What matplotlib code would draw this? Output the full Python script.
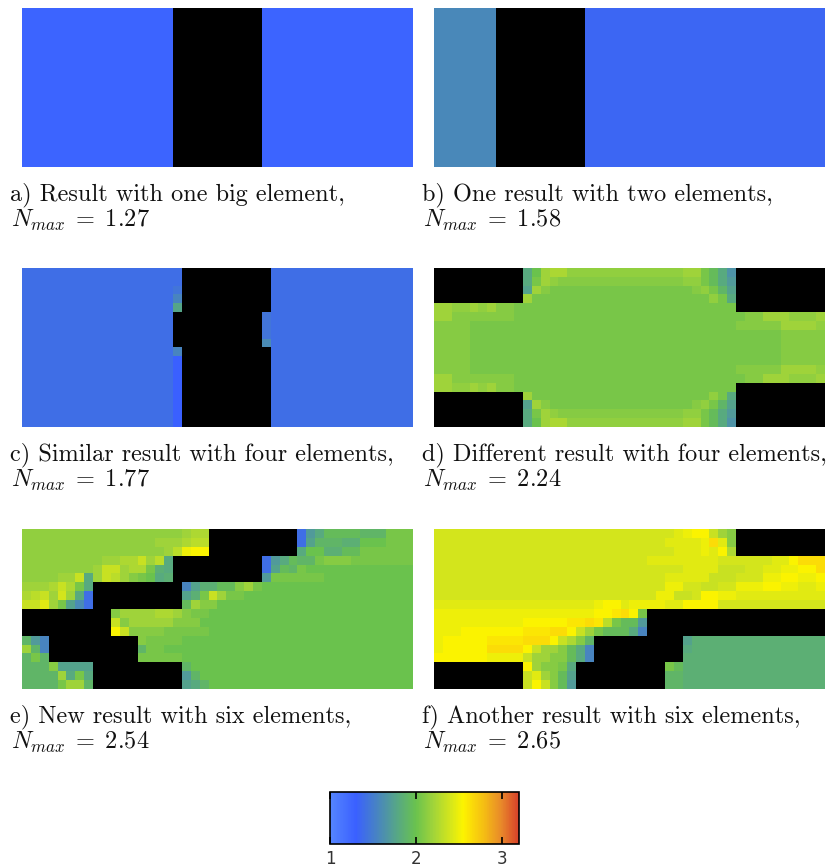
import numpy as np
import matplotlib
matplotlib.use("Agg")
import matplotlib.pyplot as plt
from matplotlib.colors import LinearSegmentedColormap, Normalize

# ---------------------------------------------------------------------------
# Data: utilisation value N of every cell of a 18 x 44 grid, per design.
# '#' marks a void cell (drawn black), '*' marks the cell holding N_max,
# every other character is a level from LEVELS.
# ---------------------------------------------------------------------------
LEVELS = {
    "6": 1.30, "7": 1.35, "8": 1.40, "9": 1.45, "A": 1.50, "B": 1.55,
    "C": 1.60, "D": 1.65, "E": 1.70, "F": 1.75, "G": 1.80, "H": 1.85,
    "I": 1.90, "J": 1.95, "K": 2.00, "L": 2.05, "M": 2.10, "N": 2.15,
    "O": 2.20, "P": 2.25, "Q": 2.30, "R": 2.35, "S": 2.40, "T": 2.45,
    "U": 2.50, "V": 2.55, "W": 2.60,
}

CAPTIONS = [
    "a) Result with one big element,",
    "b) One result with two elements,",
    "c) Similar result with four elements,",
    "d) Different result with four elements,",
    "e) New result with six elements,",
    "f) Another result with six elements,",
]
N_MAX = [1.27, 1.58, 1.77, 2.24, 2.54, 2.65]

grid_a = ["*" * 17 + "#" * 10 + "*" * 17] * 18

grid_b = ["*" * 7 + "#" * 10 + "7" * 27] * 18

grid_c = (
    ["8" * 17 + ch + "#" * 10 + "8" * 16 for ch in "889B*"]
    + ["8" * 17 + "#" * 10 + ch + "8" * 16 for ch in "999C"]
    + ["8" * 17 + ch + "#" * 10 + "8" * 16 for ch in "B66666666"]
)

d_top = [
    "#" * 10 + "GKO**" + "N" * 13 + "OO" + "LJGD" + "#" * 10,
    "#" * 10 + "GLON" + "M" * 14 + "NN" + "LJGE" + "#" * 10,
    "#" * 10 + "FOM" + "L" * 16 + "MNLIF" + "#" * 10,
    "#" * 10 + "OL" + "L" * 19 + "NLG" + "#" * 10,
]
d_mid = [
    "OONNONOMML" + "L" * 24 + "#" * 10,
    "OO" + "M" * 7 + "L" + "L" * 24 + "LMMOOONNNO",
    "MMMM" + "L" * 6 + "L" * 24 + "MMMMMOOOON",
    "MMMM" + "L" * 6 + "L" * 24 + "LLLLLMMMMM",
    "MMMM" + "L" * 6 + "L" * 24 + "LLLLLMMMMM",
    "MMMM" + "L" * 6 + "L" * 24 + "LLLLLMMMMM",
    "MMMM" + "L" * 6 + "L" * 24 + "LLLLLMMMMM",
    "MMMM" + "L" * 6 + "L" * 24 + "MMMMMOOOON",
    "OO" + "M" * 7 + "L" + "L" * 24 + "LMMOOONNNO",
    "OONNONOMML" + "L" * 24 + "#" * 10,
]
grid_d = d_top + d_mid + d_top[::-1]

grid_e = [
    "N" * 18 + "OPP" + "#" * 10 + "8EG" + "JJJJ" + "III" + "LLL",
    "N" * 15 + "OOOPQQ" + "#" * 10 + "8F" + "III" + "HH" + "KKK" + "LLL",
    "N" * 16 + "OQU**" + "#" * 10 + "GKKHHJJ" + "L" * 6,
    "N" * 9 + "OOPPROQG" + "#" * 10 + "8EGJIIL" + "MMM" + "L" * 7,
    "N" * 8 + "ORROPPLHG" + "#" * 10 + "8FJIL" + "K" * 12,
    "NNNNOORG" + "ORQOMLKGH" + "#" * 10 + "EL" + "L" * 5 + "K" * 10,
    "OOOPRPLG" + "#" * 10 + "BFHHJJMOL" + "K" * 17,
    "PQROSOG8" + "#" * 10 + "FHLROLL" + "K" * 19,
    "RRTOLFC8" + "#" * 10 + "JOMM" + "K" * 22,
    "#" * 10 + "MOOOOPPOMLL" + "K" * 23,
    "#" * 10 + "RMOOOOOMMM" + "K" * 24,
    "#" * 10 + "*RMMMMLLLLL" + "K" * 23,
    "IEB" + "#" * 10 + "MLLLL" + "K" * 26,
    "OIB" + "#" * 10 + "ILL" + "K" * 28,
    "ILI" + "#" * 10 + "LLLLL" + "K" * 26,
    "IIIMFFFF" + "#" * 10 + "I" + "K" * 25,
    "IIIIOGLG" + "#" * 10 + "EI" + "K" * 24,
    "IIIILOOI" + "#" * 10 + "FGI" + "K" * 23,
]

grid_f = [
    "S" * 27 + "TUVVROM" + "#" * 10,
    "S" * 26 + "TTTTU*TM" + "#" * 10,
    "S" * 27 + "TTTUTVP" + "#" * 10,
    "S" * 24 + "T" * 8 + "S" * 6 + "TTV***",
    "S" * 28 + "TTTTRRRSSTTUUVV*",
    "S" * 26 + "TTTTTRRRSSSUUVVUUV",
    "S" * 26 + "UUSSRRSSUUUVVUUTTU",
    "S" * 25 + "UURRSVVUU" + "T" * 10,
    "T" * 18 + "UVVTUUUUTTVVVV" + "S" * 12,
    "U" * 18 + "VVW*VL" + "#" * 20,
    "U" * 10 + "VVVVVWW*WQLJJE" + "#" * 20,
    "UUU" + "V" * 7 + "WWW**VROLJJJGB" + "#" * 20,
    "U" + "V" * 5 + "WWWW***VRPMI" + "#" * 10 + "F" + "H" * 15,
    "U" + "V" * 5 + "****VROOMJGB" + "#" * 10 + "GH" + "H" * 14,
    "V" * 6 + "UUUUROOMMJGB" + "#" * 10 + "H" * 16,
    "#" * 10 + "VOMMLG" + "#" * 10 + "LJ" + "H" * 16,
    "#" * 10 + "RTOMJF" + "#" * 10 + "II" + "H" * 16,
    "#" * 10 + "RVRMJE" + "#" * 10 + "II" + "H" * 16,
]

GRIDS = [grid_a, grid_b, grid_c, grid_d, grid_e, grid_f]

# colour scale of the utilisation value
CMAP_VALUES = [1.00, 1.30, 1.60, 1.80, 2.00, 2.20, 2.40, 2.55, 2.65, 2.80, 3.00, 3.20]
CMAP_COLORS = ["#5585ff", "#3a60ff", "#4b8cb4", "#58aa80", "#6ac24e", "#a0d43a",
               "#d4e61c", "#fcf400", "#fbdc08", "#f4bc14", "#e8882a", "#d8402a"]
CBAR_TICKS = [1, 2, 3]


def decode(rows, peak):
    grid = np.full((len(rows), len(rows[0])), np.nan)
    for r, row in enumerate(rows):
        assert len(row) == 44, (r, len(row))
        for c, ch in enumerate(row):
            if ch == "*":
                grid[r, c] = peak
            elif ch != "#":
                grid[r, c] = LEVELS[ch]
    return np.ma.masked_invalid(grid)


vmin, vmax = CMAP_VALUES[0], CMAP_VALUES[-1]
cmap = LinearSegmentedColormap.from_list(
    "utilisation",
    [((v - vmin) / (vmax - vmin), c) for v, c in zip(CMAP_VALUES, CMAP_COLORS)],
)
cmap.set_bad("black")
norm = Normalize(vmin=vmin, vmax=vmax)

plt.rcParams["mathtext.fontset"] = "cm"
plt.rcParams["axes.formatter.use_mathtext"] = False

W, H = 835, 868
fig = plt.figure(figsize=(W / 100, H / 100), dpi=100)


def px_axes(x0, y0, x1, y1):
    return fig.add_axes([x0 / W, 1 - y1 / H, (x1 - x0) / W, (y1 - y0) / H])


panel_x = [(22, 413), (434, 825)]
panel_y = [(8, 167), (268, 427), (529, 689)]
FS = 17.5

for i, rows in enumerate(GRIDS):
    col, row = i % 2, i // 2
    x0, x1 = panel_x[col]
    y0, y1 = panel_y[row]
    ax = px_axes(x0, y0, x1, y1)
    data = decode(rows, N_MAX[i])
    ax.imshow(data, cmap=cmap, norm=norm, interpolation="nearest", aspect="auto")
    ax.set_axis_off()

    tx = (x0 - 12) / W
    fig.text(tx, 1 - (y1 + 33) / H, CAPTIONS[i], family="cmr10", fontsize=FS,
             va="baseline", ha="left", color="#111111")
    fig.text(tx + 1 / W, 1 - (y1 + 60) / H, r"$N_{max}\;=\;%.2f$" % N_MAX[i],
             fontsize=FS, va="baseline", ha="left", color="#111111")

cax = px_axes(330, 792, 519, 844)
sm = plt.cm.ScalarMappable(norm=norm, cmap=cmap)
cb = fig.colorbar(sm, cax=cax, orientation="horizontal", ticks=CBAR_TICKS)
cb.outline.set_linewidth(1.2)
cax.xaxis.set_ticks_position("both")
cax.tick_params(axis="x", direction="in", length=5, width=1.2, labelsize=12,
                labelcolor="#333333", pad=4)
cax.set_xticklabels([str(t) for t in CBAR_TICKS])

fig.savefig("out.png", dpi=100)
